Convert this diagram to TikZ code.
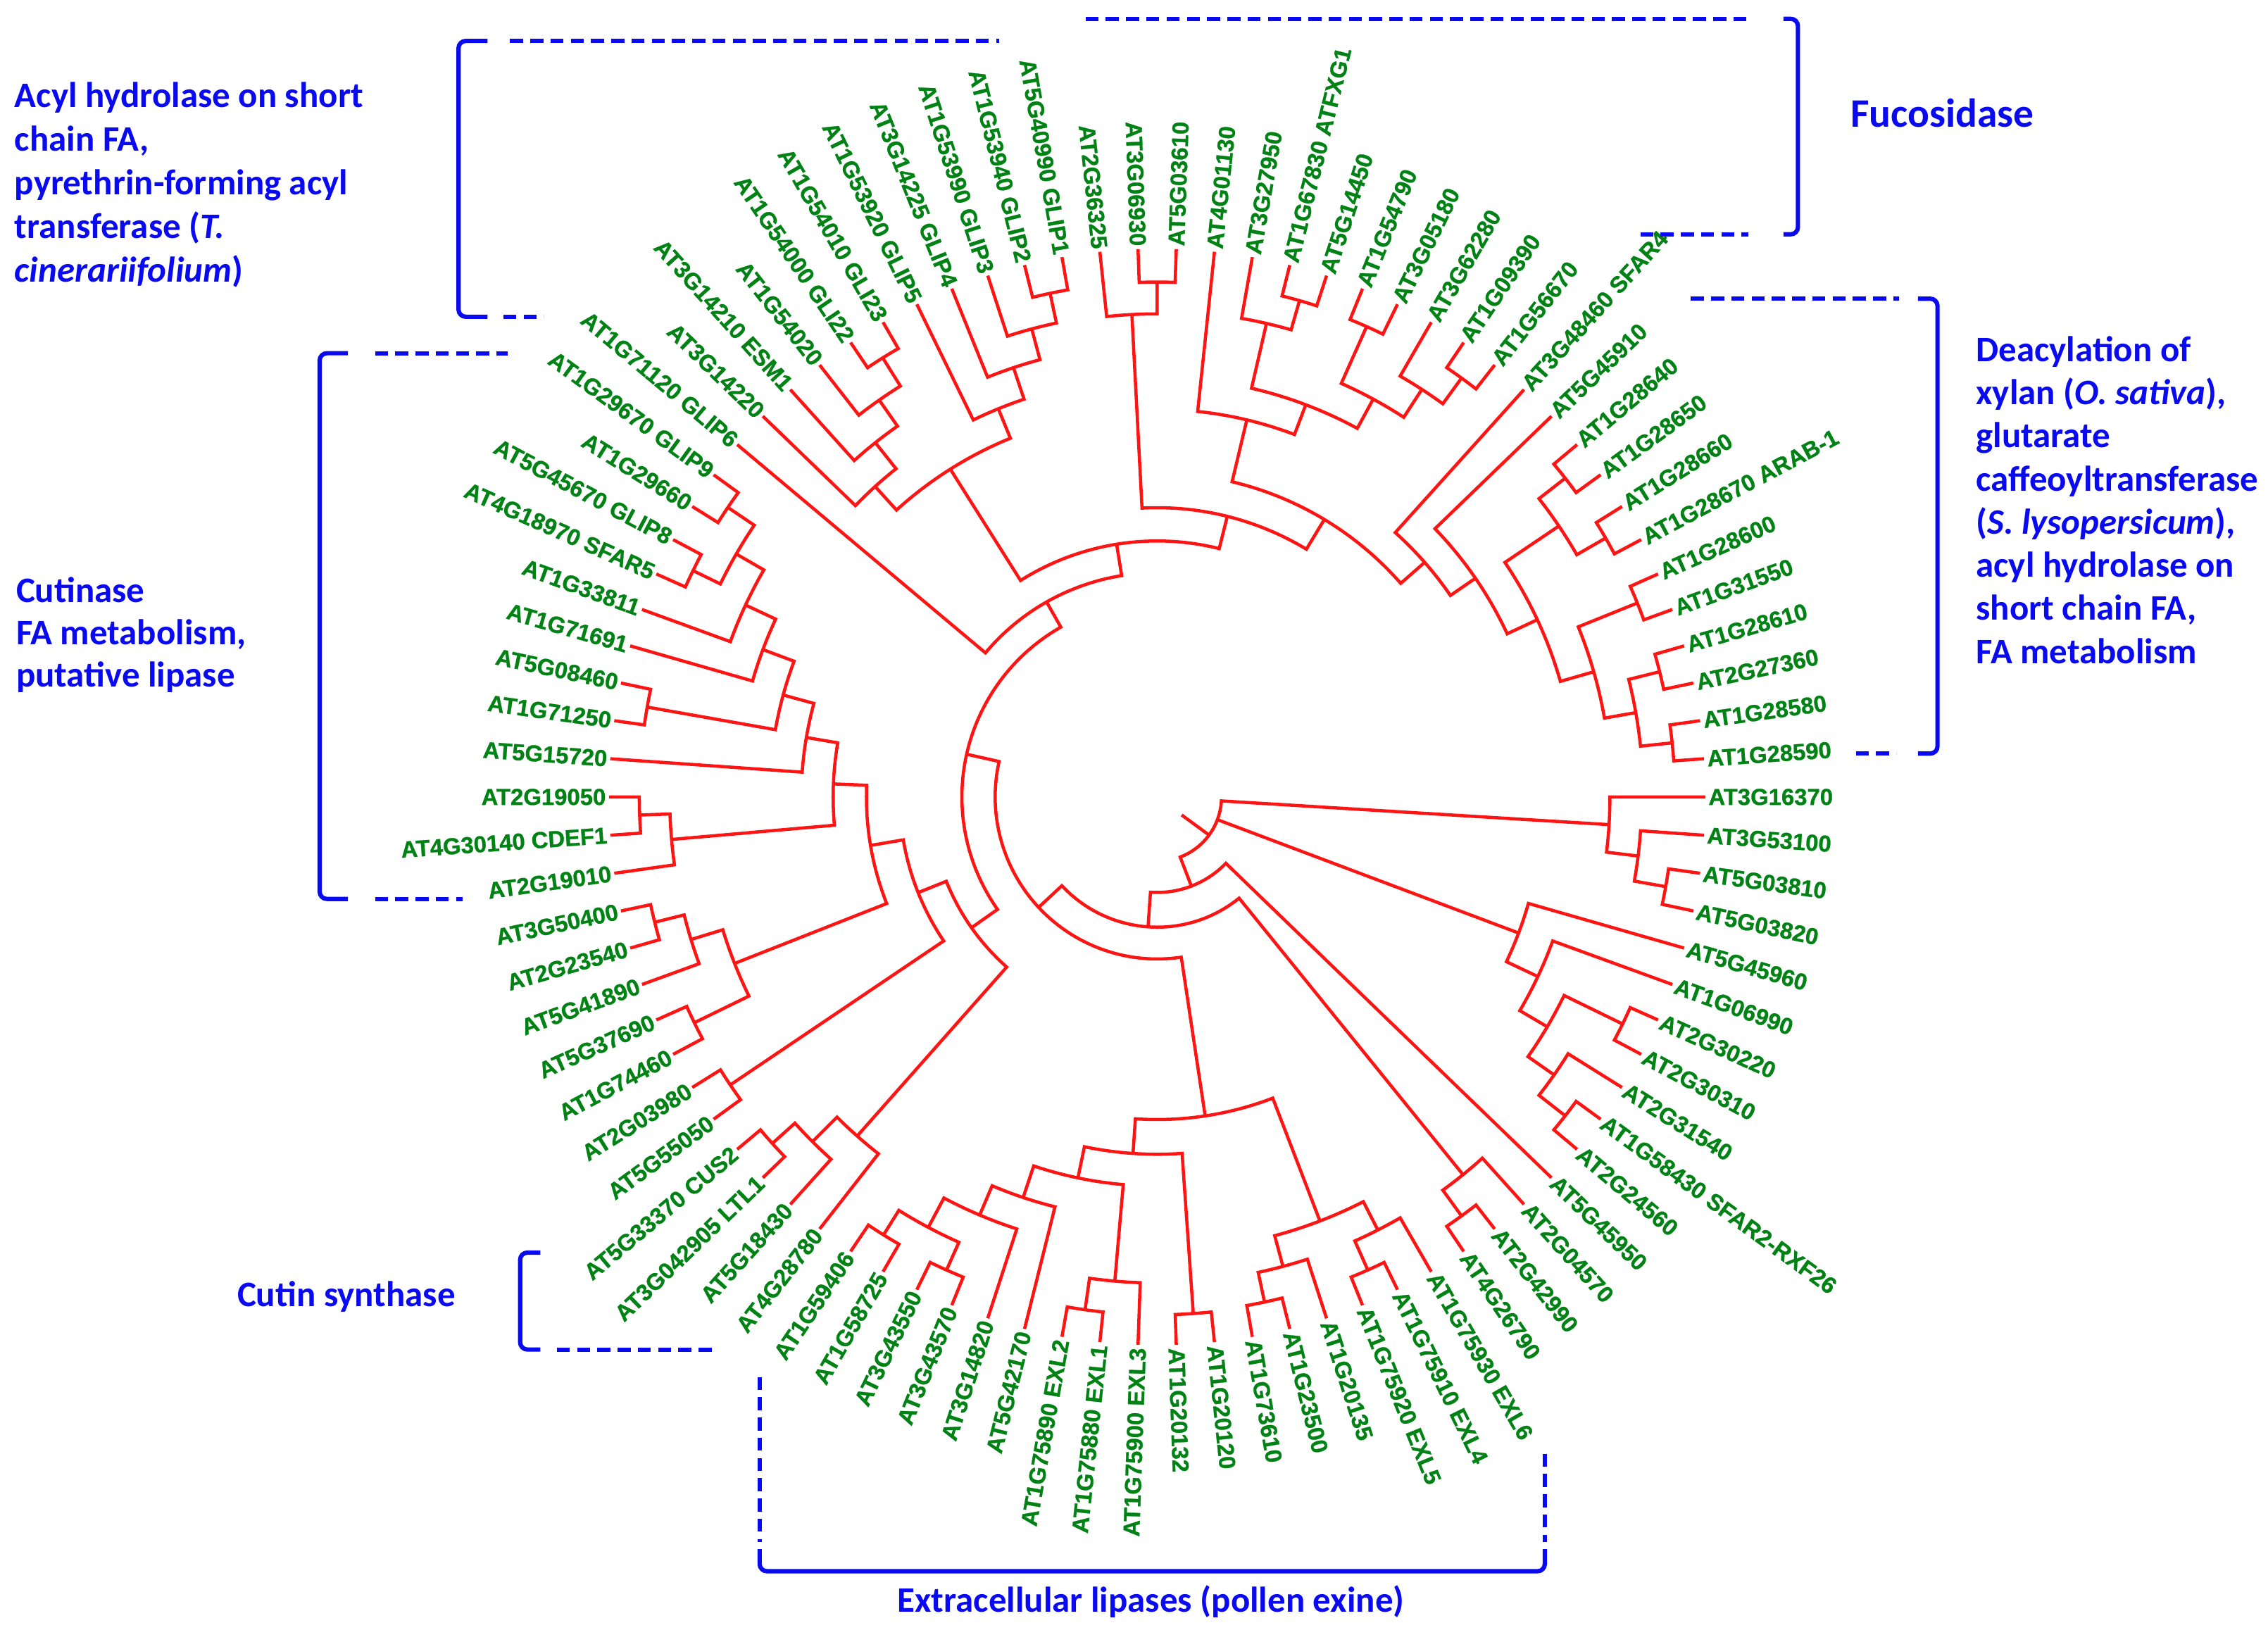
\documentclass[tikz,border=0pt]{standalone}
\usepackage{fontspec}
\newfontfamily\labfont{Liberation Sans}[BoldFeatures={FakeBold=0.8}]
\newfontfamily\annfont{Carlito}
\definecolor{treered}{RGB}{255,20,20}
\definecolor{labgreen}{RGB}{0,130,20}
\definecolor{annblue}{RGB}{10,10,240}
% internal node: radius, angle of child a, radius of child a, angle of child b, radius of child b
\newcommand\tn[5]{\draw[br] (-#2:#3) -- (-#2:#1) arc[start angle=-#2, end angle=-#4, radius=#1pt] -- (-#4:#5);}
\begin{document}
\begin{tikzpicture}[x=1pt,y=1pt,
  br/.style={treered, line width=2.2pt},
  lab/.style={labgreen, inner sep=0pt, font=\labfont\bfseries\fontsize{16}{18}\selectfont},
  bk/.style={annblue, line width=3pt, rounded corners=5pt},
  bkd/.style={annblue, line width=3pt, dash pattern=on 9pt off 5pt},
  ann/.style={annblue, inner sep=0pt, anchor=base west, font=\annfont\bfseries\fontsize{24.8}{30}\selectfont}]
\fill[white] (0,0) rectangle (1568,-1135);
\useasboundingbox (0,0) rectangle (1568,-1135);
\begin{scope}[shift={(800,-551)}]
% root
\draw[br] (-36.26:21) -- (-36.26:44.5);
\draw[br] (-3.5:313) -- (-3.5:44.5) arc[start angle=-3.5, end angle=-69.01, radius=44.5pt] -- (-69.01:66);
\draw[br] (-20.625:44.5) -- (-20.625:267);
% clade A
\tn{313}{0}{379}{7}{335}
\tn{335}{4}{379}{10}{357}
\tn{357}{8}{379}{12}{379}
% clade B
\tn{267}{16}{379}{25.25}{291}
\tn{291}{20}{379}{30.5}{313}
\tn{313}{26}{358}{35}{335}
\tn{358}{24}{379}{28}{379}
\tn{335}{32}{379}{38}{358}
\tn{358}{36}{379}{40}{379}
% R, S, T
\tn{66}{44}{379}{94.02}{90}
\tn{90}{51}{336}{137.04}{112}
\tn{336}{48}{379}{54}{358}
\tn{358}{52}{379}{56}{379}
% D, E
\tn{112}{81.44}{223}{192.65}{135}
\tn{223}{69}{314}{93.875}{247}
\tn{314}{63}{336}{75}{336}
\tn{336}{60}{379}{66}{358}
\tn{358}{64}{379}{68}{379}
\tn{336}{72}{379}{78}{357}
\tn{357}{76}{379}{80}{379}
\tn{247}{86}{358}{101.75}{269}
\tn{358}{84}{379}{88}{379}
\tn{269}{95}{336}{108.5}{292}
\tn{336}{92}{379}{98}{358}
\tn{358}{96}{379}{100}{379}
\tn{292}{104}{379}{113}{314}
\tn{314}{108}{379}{118}{337}
\tn{337}{114}{358}{122}{357}
\tn{358}{112}{379}{116}{379}
\tn{357}{120}{379}{124}{379}
% H, K
\tn{135}{144.85}{157}{240.445}{155}
\tn{157}{131.5}{313}{158.2}{178}
\tn{313}{128}{379}{135}{337}
\tn{337}{132}{379}{138}{358}
\tn{358}{136}{379}{140}{379}
\tn{178}{146}{356}{170.41}{201}
\tn{356}{144}{379}{148}{379}
\tn{201}{158.5}{314}{182.31}{224}
\tn{314}{154}{356}{163}{337}
\tn{356}{152}{379}{156}{379}
\tn{337}{160}{379}{166}{358}
\tn{358}{164}{379}{168}{379}
\tn{224}{175}{337}{189.625}{246}
\tn{337}{172}{379}{178}{358}
\tn{358}{176}{379}{180}{379}
\tn{246}{184}{379}{195.25}{268}
\tn{268}{190}{358}{200.5}{291}
\tn{358}{188}{379}{192}{379}
\tn{291}{196}{379}{205}{314}
\tn{314}{200}{379}{210}{336}
\tn{336}{206}{357}{214}{358}
\tn{357}{204}{379}{208}{379}
\tn{358}{212}{379}{216}{379}
% G
\tn{155}{220}{379}{260.89}{177}
\tn{177}{237.75}{268}{284.03}{200}
\tn{268}{227.75}{290}{247.75}{290}
\tn{290}{224}{379}{231.5}{313}
\tn{313}{228}{379}{235}{335}
\tn{335}{232}{379}{238}{358}
\tn{358}{236}{379}{240}{379}
\tn{290}{244}{379}{251.5}{313}
\tn{313}{248}{379}{255}{335}
\tn{335}{252}{379}{258}{356}
\tn{356}{256}{379}{260}{379}
% U
\tn{200}{267}{334}{301.06}{224}
\tn{334}{264}{379}{270}{356}
\tn{356}{268}{379}{272}{379}
\tn{224}{283.375}{268}{318.75}{246}
\tn{268}{276}{379}{290.75}{290}
\tn{290}{283}{336}{298.5}{313}
\tn{336}{280}{379}{286}{357}
\tn{357}{284}{379}{288}{379}
\tn{313}{294}{356}{303}{336}
\tn{356}{292}{379}{296}{379}
\tn{336}{300}{379}{306}{358}
\tn{358}{304}{379}{308}{379}
\tn{246}{312}{379}{325.5}{267}
\tn{267}{316}{379}{335}{290}
\tn{290}{326}{335}{344}{314}
\tn{335}{322}{358}{330}{358}
\tn{358}{320}{379}{324}{379}
\tn{358}{328}{379}{332}{379}
\tn{314}{338}{358}{350}{336}
\tn{358}{336}{379}{340}{379}
\tn{336}{346}{358}{354}{358}
\tn{358}{344}{379}{348}{379}
\tn{358}{352}{379}{356}{379}
% leaf labels
\foreach \i/\t in {1/AT3G16370,2/AT3G53100,3/AT5G03810,4/AT5G03820,5/AT5G45960,6/AT1G06990,7/AT2G30220,8/AT2G30310,9/AT2G31540,10/AT1G58430 SFAR2-RXF26,11/AT2G24560,12/AT5G45950,13/AT2G04570,14/AT2G42990,15/AT4G26790,16/AT1G75930 EXL6,17/AT1G75910 EXL4,18/AT1G75920 EXL5,19/AT1G20135,20/AT1G23500,21/AT1G73610,22/AT1G20120,23/AT1G20132,24/AT1G75900 EXL3,25/AT1G75880 EXL1,26/AT1G75890 EXL2,27/AT5G42170,28/AT3G14820,29/AT3G43570,30/AT3G43550,31/AT1G58725,32/AT1G59406,33/AT4G28780,34/AT5G18430,35/AT3G042905 LTL1,36/AT5G33370 CUS2,37/AT5G55050,38/AT2G03980,39/AT1G74460,40/AT5G37690,41/AT5G41890,42/AT2G23540,43/AT3G50400,44/AT2G19010,45/AT4G30140 CDEF1,46/AT2G19050,47/AT5G15720,48/AT1G71250,49/AT5G08460,50/AT1G71691,51/AT1G33811,52/AT4G18970 SFAR5,53/AT5G45670 GLIP8,54/AT1G29660,55/AT1G29670 GLIP9,56/AT1G71120 GLIP6,57/AT3G14220,58/AT3G14210 ESM1,59/AT1G54020,60/AT1G54000 GLI22,61/AT1G54010 GLI23,62/AT1G53920 GLIP5,63/AT3G14225 GLIP4,64/AT1G53990 GLIP3,65/AT1G53940 GLIP2,66/AT5G40990 GLIP1,67/AT2G36325,68/AT3G06930,69/AT5G03610,70/AT4G01130,71/AT3G27950,72/AT1G67830 ATFXG1,73/AT5G14450,74/AT1G54790,75/AT3G05180,76/AT3G62280,77/AT1G09390,78/AT1G56670,79/AT3G48460 SFAR4,80/AT5G45910,81/AT1G28640,82/AT1G28650,83/AT1G28660,84/AT1G28670 ARAB-1,85/AT1G28600,86/AT1G31550,87/AT1G28610,88/AT2G27360,89/AT1G28580,90/AT1G28590}{
  \pgfmathsetmacro\th{4*(\i-1)}
  \ifdim\th pt>90pt
    \ifdim\th pt<270pt
      \node[lab, anchor=east, rotate={180-\th}] (l\i) at (-\th:381) {\t};
    \else
      \node[lab, anchor=west, rotate={-\th}] (l\i) at (-\th:381) {\t};
    \fi
  \else
    \node[lab, anchor=west, rotate={-\th}] (l\i) at (-\th:381) {\t};
  \fi
}
\end{scope}
% brackets
% acyl hydrolase (top left)
\draw[bk] (337,-28.3) -- (317,-28.3) -- (317,-219) -- (337,-219);
\draw[bkd] (352.6,-28.3) -- (691,-28.3);
\draw[bkd] (348,-219) -- (376,-219);
% fucosidase (top right)
\draw[bkd] (750.5,-13) -- (1208.6,-13);
\draw[bkd] (1134,-162) -- (1208.6,-162);
\draw[bk] (1233,-13) -- (1243,-13) -- (1243,-162) -- (1233,-162);
% deacylation (right)
\draw[bkd] (1169,-206.5) -- (1313,-206.5);
\draw[bkd] (1283,-521) -- (1311,-521);
\draw[bk] (1326,-206.5) -- (1339.5,-206.5) -- (1339.5,-521) -- (1326,-521);
% cutinase (left)
\draw[bk] (240.6,-244.2) -- (221,-244.2) -- (221,-621.5) -- (240.6,-621.5);
\draw[bkd] (259.3,-244.2) -- (351,-244.2);
\draw[bkd] (259.3,-621.5) -- (320,-621.5);
% cutin synthase
\draw[bk] (373.6,-866) -- (359.6,-866) -- (359.6,-933) -- (373.6,-933);
\draw[bkd] (385,-933) -- (496.6,-933);
% extracellular lipases (bottom)
\draw[bkd] (525.2,-952) -- (525.2,-1066);
\draw[bkd] (1068,-1005) -- (1068,-1066);
\draw[bk] (525.2,-1071) -- (525.2,-1086.3) -- (1068,-1086.3) -- (1068,-1071);
% annotation texts
\node[ann] (a1) at (10,-74) {Acyl hydrolase on short};
\node[ann] (a2) at (10,-104.3) {chain FA,};
\node[ann] (a3) at (10,-134.6) {pyrethrin-forming acyl};
\node[ann] (a4) at (10,-164.9) {transferase (\textit{T.}};
\node[ann] (a5) at (10,-195.2) {\textit{cinerariifolium})};
\node[ann, font=\annfont\bfseries\fontsize{28}{32}\selectfont] (fu) at (1279.2,-87.8) {Fucosidase};
\node[ann] (d1) at (1366,-250) {Deacylation of};
\node[ann] (d2) at (1366,-279.8) {xylan (\textit{O. sativa}),};
\node[ann] (d3) at (1366,-309.6) {glutarate};
\node[ann] (d4) at (1366,-339.4) {caffeoyltransferase};
\node[ann] (d5) at (1366,-369.2) {(\textit{S. lysopersicum}),};
\node[ann] (d6) at (1366,-399) {acyl hydrolase on};
\node[ann] (d7) at (1366,-428.8) {short chain FA,};
\node[ann] (d8) at (1366,-458.6) {FA metabolism};
\node[ann] (c1) at (11,-416.5) {Cutinase};
\node[ann] (c2) at (11,-445.5) {FA metabolism,};
\node[ann] (c3) at (11,-475) {putative lipase};
\node[ann, anchor=base east] (cs) at (315,-903.4) {Cutin synthase};
\node[ann, anchor=base] (ex) at (795.7,-1114.7) {Extracellular lipases (pollen exine)};
\end{tikzpicture}
\end{document}
